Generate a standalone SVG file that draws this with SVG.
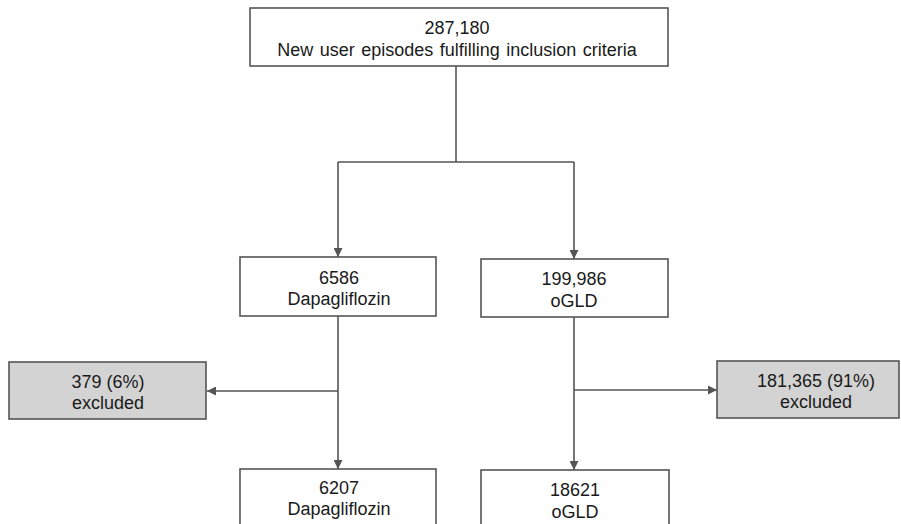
<svg xmlns="http://www.w3.org/2000/svg" width="901" height="524" viewBox="0 0 901 524">
<defs>
<marker id="arr" markerWidth="9" markerHeight="9" refX="9" refY="4.5" orient="auto" markerUnits="userSpaceOnUse">
<path d="M0,0 L9,4.5 L0,9 Z" fill="#555"/>
</marker>
<style>
.box{fill:#fff;stroke:#555;stroke-width:1.6}
.ex{fill:#d3d3d3;stroke:#555;stroke-width:1.6}
.t{font-family:"Liberation Sans",Arial,sans-serif;font-size:18px;fill:#1a1a1a;text-anchor:middle}
.c{fill:none;stroke:#555;stroke-width:1.6}
</style>
</defs>
<rect width="901" height="524" fill="#fff"/>
<g id="connectors">
<path class="c" d="M456,66 V162"/>
<path class="c" d="M338,162 H574"/>
<path class="c" d="M338,162 V257" marker-end="url(#arr)"/>
<path class="c" d="M574,162 V259" marker-end="url(#arr)"/>
<path class="c" d="M338,316 V469" marker-end="url(#arr)"/>
<path class="c" d="M338,391 H207" marker-end="url(#arr)"/>
<path class="c" d="M574,317 V470" marker-end="url(#arr)"/>
<path class="c" d="M574,390 H717" marker-end="url(#arr)"/>
</g>
<g id="top">
<rect class="box" x="250" y="8" width="418" height="58"/>
<text class="t" x="457" y="34">287,180</text>
<text class="t" x="457" y="56" word-spacing="1.5">New user episodes fulfilling inclusion criteria</text>
</g>
<g id="dapa1">
<rect class="box" x="240" y="257" width="196" height="59"/>
<text class="t" x="339" y="284">6586</text>
<text class="t" x="339" y="305">Dapagliflozin</text>
</g>
<g id="ogld1">
<rect class="box" x="481" y="259" width="187" height="58"/>
<text class="t" x="574" y="285">199,986</text>
<text class="t" x="574" y="307">oGLD</text>
</g>
<g id="exdapa">
<rect class="ex" x="9" y="362" width="197" height="57"/>
<text class="t" x="108" y="388">379 (6%)</text>
<text class="t" x="108" y="409">excluded</text>
</g>
<g id="exogld">
<rect class="ex" x="717" y="361" width="182" height="57"/>
<text class="t" x="816" y="387">181,365 (91%)</text>
<text class="t" x="816" y="408">excluded</text>
</g>
<g id="dapa2">
<rect class="box" x="240" y="469" width="196" height="70"/>
<text class="t" x="339" y="494">6207</text>
<text class="t" x="339" y="515">Dapagliflozin</text>
</g>
<g id="ogld2">
<rect class="box" x="481" y="470" width="188" height="70"/>
<text class="t" x="575" y="496">18621</text>
<text class="t" x="575" y="518">oGLD</text>
</g>
</svg>
